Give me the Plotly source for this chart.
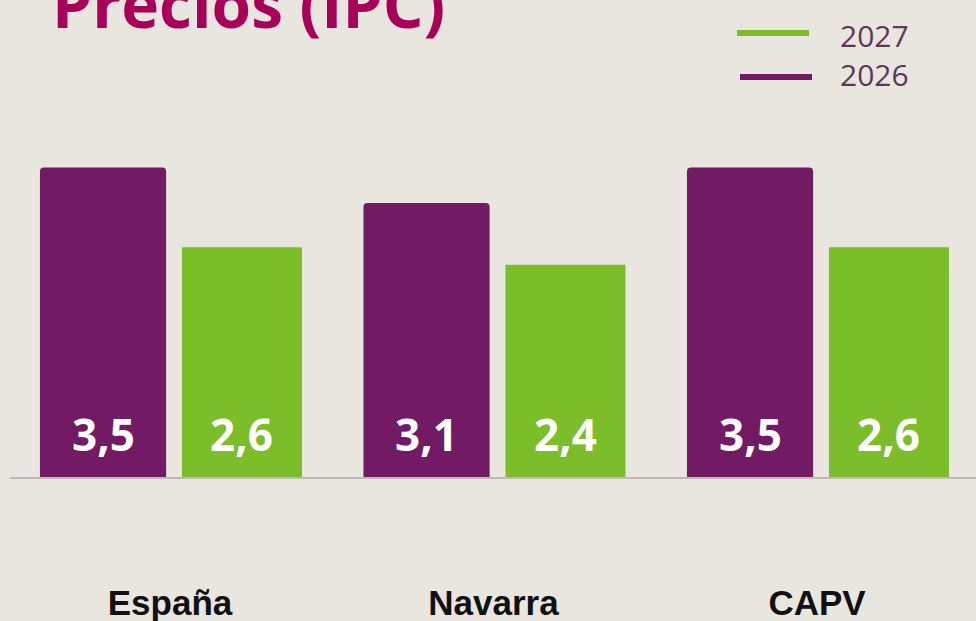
import plotly.graph_objects as go

categories = ["España", "Navarra", "CAPV"]
values_2026 = [3.5, 3.1, 3.5]
values_2027 = [2.6, 2.4, 2.6]
labels_2026 = ["3,5", "3,1", "3,5"]
labels_2027 = ["2,6", "2,4", "2,6"]
series_names = ["2027", "2026"]
title_text = "Precios (IPC)"

BG = "#E9E6E0"
PURPLE = "#721A63"
GREEN = "#7BBE2A"
TITLE_C = "#A8005A"
LEG_TXT = "#5B3859"

W, H = 976, 621
ML, MR, MT, MB = 10, 0, 0, 144
plot_w = W - ML - MR
plot_h = H - MT - MB
step = 323.5  # px per category
x0_px = 170   # pixel of category 0
x_lo = -(x0_px - ML) / step
x_hi = x_lo + plot_w / step
px_per_unit = 88.4
y_hi = plot_h / px_per_unit

def px_x(p):
    return (p - ML) / plot_w

def px_y(p):
    return (MT + plot_h - p) / plot_h

xs = list(range(len(categories)))
off_p, w_p = -0.402, 0.39
off_g, w_g = 0.037, 0.371

fig = go.Figure()
fig.add_trace(go.Bar(x=xs, y=values_2026, name=series_names[1], offset=off_p, width=w_p,
                     marker=dict(color=PURPLE, line=dict(width=0), cornerradius=4),
                     hoverinfo="skip"))
fig.add_trace(go.Bar(x=xs, y=values_2027, name=series_names[0], offset=off_g, width=w_g,
                     marker=dict(color=GREEN, line=dict(width=0)),
                     hoverinfo="skip"))

annotations = []
label_y = (477 - 434) / px_per_unit
for i in xs:
    annotations.append(dict(x=i + off_p + w_p / 2, y=label_y, text=labels_2026[i], showarrow=False,
                            xref="x", yref="y", yanchor="middle",
                            font=dict(family="Open Sans", size=44, color="white", weight="bold")))
    annotations.append(dict(x=i + off_g + w_g / 2, y=label_y, text=labels_2027[i], showarrow=False,
                            xref="x", yref="y", yanchor="middle",
                            font=dict(family="Open Sans", size=44, color="white", weight="bold")))

annotations.append(dict(x=px_x(50), y=px_y(3), xref="paper", yref="paper", xanchor="left", yanchor="middle",
                        text=title_text, showarrow=False,
                        font=dict(family="Open Sans", size=64, color=TITLE_C, weight="bold")))

shapes = []
leg = [(series_names[0], GREEN, 737, 809, 33, 36), (series_names[1], PURPLE, 740, 812, 77, 75)]
for name, col, xa, xb, ly, ty in leg:
    shapes.append(dict(type="line", xref="paper", yref="paper", x0=px_x(xa), x1=px_x(xb),
                       y0=px_y(ly), y1=px_y(ly), line=dict(color=col, width=6)))
    annotations.append(dict(x=px_x(838), y=px_y(ty), xref="paper", yref="paper", xanchor="left",
                            yanchor="middle", text=name, showarrow=False,
                            font=dict(family="Open Sans", size=30, color=LEG_TXT)))

fig.update_layout(
    width=W, height=H,
    margin=dict(l=ML, r=MR, t=MT, b=MB, pad=0, autoexpand=False),
    paper_bgcolor=BG, plot_bgcolor=BG,
    barmode="overlay", showlegend=False,
    annotations=annotations, shapes=shapes,
    xaxis=dict(range=[x_lo, x_hi], tickvals=xs, ticktext=categories, showgrid=False, zeroline=False,
               showline=True, linecolor="#BEBBB6", linewidth=2, ticks="", automargin=False,
               ticklabelstandoff=94,
               tickfont=dict(family="Liberation Sans", size=35, color="#111111", weight="bold")),
    yaxis=dict(range=[0, y_hi], visible=False, showgrid=False, zeroline=False, automargin=False),
)

fig.write_html("out.html", config={"displayModeBar": False},
               post_script="document.body.style.margin='0';document.body.style.background='" + BG + "';")
